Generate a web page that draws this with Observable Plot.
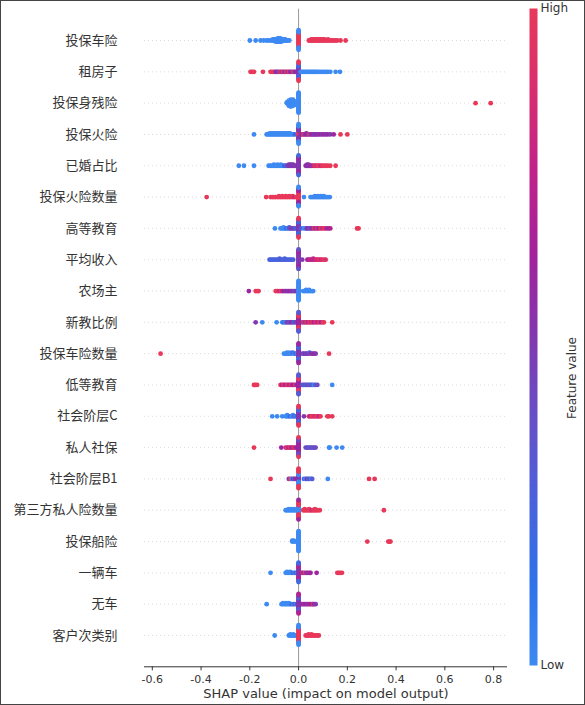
<!DOCTYPE html>
<html><head><meta charset="utf-8">
<script src="https://cdn.jsdelivr.net/npm/d3@7"></script>
<script src="https://cdn.jsdelivr.net/npm/@observablehq/plot@0.6"></script>
<style>
body{margin:0;background:#fff;}
#wrap{position:relative;width:585px;height:705px;overflow:hidden;background:#fff;}
#main{position:absolute;left:0;top:0;}
#bar{position:absolute;left:520px;top:0;}
#frame{position:absolute;left:0;top:0;width:585px;height:705px;box-sizing:border-box;border:1px solid #444;pointer-events:none;}
</style></head><body>
<div id="wrap"><div id="main"></div><div id="bar"></div><div id="frame"></div></div>
<script>
// Feature names (top to bottom)
const features = ["投保车险","租房子","投保身残险","投保火险","已婚占比","投保火险数量","高等教育","平均收入","农场主","新教比例","投保车险数量","低等教育","社会阶层C","私人社保","社会阶层B1","第三方私人险数量","投保船险","一辆车","无车","客户次类别"];
const xTicks = [-0.6,-0.4,-0.2,0,0.2,0.4,0.6,0.8];
const xTitle = "SHAP value (impact on model output)";
const barLabel = "Feature value";
const barTicks = ["Low","High"];
// colour stops of the feature-value colour bar (low -> high)
const colorStops = ["#3d8af2","#2f72ea","#4a62dc","#6650c8","#8238b0","#a2229c","#c0228a","#d82e70","#e8385a"];

// Each point: [SHAP value, feature value (0 = low, 1 = high), count]
const r01 = [[-0.200,0],[-0.176,0],[-0.156,0],[-0.143,0],[-0.131,0],[-0.122,0],[-0.113,0],
 [-0.106,0,2],[-0.100,0,2],[-0.095,0,3],[-0.090,0,3],[-0.085,0,4],[-0.080,0,4],[-0.075,0,4],[-0.070,0,3],[-0.065,0,2],[-0.060,0,2],[-0.055,0,2],[-0.050,0],[-0.045,0],[-0.038,0],
 [0,1,14],[0,0,6],
 [0.042,1],[0.047,1],[0.052,1,2],[0.058,1,2],[0.064,1,2],[0.070,1,2],[0.076,1,2],[0.082,1,2],[0.088,1,2],[0.094,1,2],[0.100,1,2],[0.107,1,2],[0.114,1],[0.121,1,2],[0.128,1],[0.135,1],[0.142,1],[0.150,1],[0.158,1],[0.172,1],[0.193,1]];
const r02 = [[-0.197,1],[-0.190,1],[-0.183,1],[-0.146,1],[-0.115,1],[-0.108,1],[-0.100,1],[-0.094,0.6],[-0.088,0.5],[-0.082,0.5],[-0.076,1],[-0.070,0.5],[-0.064,1],[-0.058,0.6],[-0.052,1],[-0.046,0.5],[-0.040,1],[-0.034,0.6],[-0.028,0.5],[-0.022,1],[-0.016,0.5],[-0.010,0.6],[-0.005,0.5],
 [0,0.5,8],[0,0.2,6],[0,1,4],
 [0.008,0],[0.014,0],[0.020,0],[0.026,0],[0.032,0],[0.038,0],[0.044,0],[0.050,0],[0.056,0],[0.062,0],[0.068,0],[0.074,0],[0.080,0],[0.088,0],[0.096,0],[0.104,0],[0.112,0],[0.120,0],[0.130,0],[0.152,0],[0.170,0]];
const r03 = [[-0.048,0,2],[-0.040,0,7],[-0.032,0,9],[-0.023,0,8],[-0.015,0,5],[-0.007,0],[0,0,24],[0.726,1],[0.788,1]];
const r04 = [[-0.183,0],[-0.131,0],[-0.125,0],[-0.119,0,2],[-0.113,0,2],[-0.107,0,2],[-0.101,0,2],[-0.095,0,2],[-0.089,0,2],[-0.083,0,2],[-0.077,0,2],[-0.071,0,2],[-0.065,0,2],[-0.059,0,2],[-0.053,0,2],[-0.047,0,2],[-0.041,0,2],[-0.035,0,2],[-0.029,0],[-0.022,0],[-0.015,0.2],
 [0,1,6],[0,0.5,8],[0,0,6],
 [0.008,0.5],[0.014,0.6],[0.020,1],[0.026,0.5],[0.032,0.6,2],[0.038,0.5],[0.044,1],[0.050,0.5],[0.056,0.6],[0.062,0.5],[0.068,0.5],[0.074,0.6],[0.080,0.5],[0.088,0.6],[0.096,0.5],[0.104,0.6],[0.112,0.5],[0.120,0.6],[0.130,0.5],[0.144,0.6],[0.172,1],[0.200,1]];
const r05 = [[-0.245,0],[-0.224,0],[-0.183,0],[-0.123,0],[-0.115,0],[-0.108,0],[-0.101,0,2],[-0.094,0],[-0.087,0,2],[-0.080,0],[-0.073,0,2],[-0.066,0],[-0.059,0.2],[-0.052,0.2],[-0.046,0.4],[-0.040,0.5,2],[-0.034,0.5,2],[-0.028,0.5,2],[-0.022,0.5,2],[-0.016,0.5],[-0.010,0.5],
 [0,0.5,12],[0,0.6,6],[0,0.2,2],
 [0.029,0.5],[0.035,0.6,2],[0.041,0.5,2],[0.047,0.6],[0.053,0.5],[0.060,0.7],[0.066,1],[0.072,0.8],[0.078,1],[0.084,1],[0.090,0.8],[0.097,1],[0.104,1],[0.112,1],[0.120,1],[0.130,1],[0.152,1]];
const r06 = [[-0.377,1],[-0.133,1],[-0.115,1],[-0.108,1],[-0.101,1],[-0.094,1],[-0.087,1],[-0.080,1,2],[-0.073,1],[-0.066,1,2],[-0.059,1],[-0.052,1,2],[-0.045,1],[-0.038,1,2],[-0.031,1],[-0.024,1,2],[-0.017,0.8],[-0.010,1],
 [0,1,10],[0,0.6,6],[0,0,4],
 [0.022,0],[0.049,0],[0.055,0],[0.061,0],[0.067,0,2],[0.073,0],[0.079,0,2],[0.085,0],[0.091,0,2],[0.097,0],[0.103,0,2],[0.109,0],[0.115,0],[0.121,0],[0.128,0]];
const r07 = [[-0.097,0],[-0.074,0],[-0.068,0],[-0.062,0,2],[-0.056,0],[-0.050,0.2],[-0.044,0],[-0.038,0.3,2],[-0.032,0.5],[-0.026,0.4],[-0.020,0.5],[-0.014,0.2],[-0.008,0.3],
 [0,0.5,10],[0,0.2,6],[0,1,4],
 [0.010,0.3],[0.022,0],[0.028,0],[0.034,0.5],[0.040,0.6],[0.046,0.2],[0.052,0.7],[0.058,0.5],[0.064,1],[0.070,0.6],[0.076,1],[0.082,0.6],[0.090,1],[0.098,0.8],[0.106,1],[0.114,0.7],[0.122,0.6],[0.130,0.7],[0.240,1],[0.246,1]];
const r08 = [[-0.119,0.25],[-0.113,0.25],[-0.106,0.2],[-0.099,0.25],[-0.092,0.25],[-0.085,0.2],[-0.078,0.25,2],[-0.071,0.3],[-0.064,0.25],[-0.057,0.2,2],[-0.050,0.3],[-0.043,0.25],[-0.036,0.2],[-0.029,0.3],[-0.022,0.25],
 [0,0.5,12],[0,0.6,6],[0,0.35,2],
 [0.015,0.5],[0.036,0.7],[0.042,0.6],[0.048,0.8],[0.054,0.7],[0.060,0.8,2],[0.066,0.7],[0.072,0.9],[0.078,0.8],[0.084,1],[0.090,0.8],[0.096,0.9],[0.104,1],[0.111,0.9]];
const r09 = [[-0.204,0.6],[-0.176,1],[-0.170,1],[-0.164,1],[-0.094,1],[-0.087,1],[-0.080,0.8],[-0.073,1],[-0.066,0.7],[-0.060,0.6],[-0.053,0.5],[-0.047,0.6],[-0.041,0.5],[-0.035,0.6],[-0.029,0.5],[-0.023,0.5],[-0.017,0.4],[-0.012,0.5],
 [0,0,20],
 [0.019,0],[0.025,0],[0.031,0,2],[0.037,0],[0.043,0,2],[0.049,0],[0.055,0],[0.060,0]];
const r10 = [[-0.176,0.5],[-0.149,0],[-0.090,0],[-0.067,0],[-0.061,0.2],[-0.055,0],[-0.049,0.4],[-0.043,0.5],[-0.037,0.3],[-0.031,0.6],[-0.025,0.5],[-0.019,0.2],[-0.012,0.5],[-0.006,0.4],
 [0,0.6,10],[0,1,6],[0,0.3,4],
 [0.015,0.6],[0.021,1],[0.027,0.5],[0.033,1],[0.039,0.7],[0.045,1],[0.051,0.8],[0.057,1],[0.063,0.6],[0.070,1],[0.077,0.7],[0.084,1],[0.092,0.6],[0.100,1],[0.104,1],[0.138,1]];
const r11 = [[-0.566,1],[-0.060,0],[-0.054,0],[-0.048,0,2],[-0.042,0],[-0.036,0,2],[-0.030,0],[-0.024,0.2],[-0.018,0],[-0.012,0.3],[-0.006,0],
 [0,0.5,10],[0,0.2,6],[0,0.6,4],
 [0.015,0.5],[0.021,0.3],[0.027,0.6],[0.033,0.4],[0.039,0.5],[0.045,0.2],[0.051,0.6],[0.058,0.5],[0.064,0.6],[0.070,0.5],[0.125,1]];
const r12 = [[-0.183,1],[-0.177,1],[-0.170,1],[-0.074,1],[-0.068,0.7],[-0.062,1],[-0.056,0.7],[-0.050,0.8],[-0.044,1],[-0.038,0.6],[-0.032,1],[-0.026,0.7],[-0.020,0.6],[-0.014,1],[-0.008,0.6],
 [0,0.6,10],[0,1,6],[0,0.3,4],
 [0.015,0.4],[0.021,0.3],[0.027,0.35],[0.033,0.3],[0.039,0.4],[0.045,0.3],[0.051,0.35],[0.057,0.3],[0.063,0],[0.069,0.3],[0.077,0.4],[0.138,0]];
const r13 = [[-0.108,0],[-0.088,0],[-0.067,0],[-0.053,0],[-0.047,0,2],[-0.041,0],[-0.035,0.2],[-0.029,0],[-0.023,0,2],[-0.017,0.3],[-0.011,0],[-0.005,0.2],
 [0,0.5,10],[0,0.2,6],[0,1,4],
 [0.022,0.5],[0.042,1],[0.048,0.7],[0.054,1],[0.060,1],[0.066,0.8],[0.072,1],[0.078,1],[0.084,0.7],[0.090,1],[0.118,1],[0.124,1],[0.138,1]];
const r14 = [[-0.183,1],[-0.071,0.6],[-0.053,0.8],[-0.047,1],[-0.041,0.7],[-0.035,1],[-0.029,0.6],[-0.023,0.8],[-0.017,1],[-0.011,0.6],
 [0,0.6,12],[0,0.4,6],[0,1,2],
 [0.029,0.4],[0.035,0.35],[0.041,0.4],[0.047,0.3],[0.053,0.4],[0.059,0.35],[0.065,0.4],[0.070,0.4],[0.125,0],[0.128,0],[0.156,0],[0.179,0]];
const r15 = [[-0.115,1],[-0.040,0.5],[-0.034,1],[-0.028,0],[-0.022,0.5],[-0.018,0.3],[-0.012,0.6],
 [0,0.5,6],[0,0,7],[0,1,7],
 [0.022,0.2],[0.028,0],[0.034,0.5],[0.040,0.2],[0.046,0.4],[0.052,0],[0.056,0.3],[0.120,0],[0.289,1],[0.312,1]];
const r16 = [[-0.053,0],[-0.047,0],[-0.041,0,2],[-0.035,0],[-0.029,0,2],[-0.023,0],[-0.017,0,2],[-0.011,0],[-0.005,0],
 [0,0,8],[0,1,10],[0,0.6,2],
 [0.019,1],[0.025,1,2],[0.031,1],[0.037,1],[0.043,1,2],[0.049,1],[0.055,0.8],[0.061,1],[0.067,1,2],[0.073,1],[0.079,1],[0.087,1],[0.350,1]];
const r17 = [[-0.026,0,2],[-0.020,0,2],[-0.012,0],[-0.006,0],[0,0,24],[0.282,1],[0.368,1],[0.373,1],[0.377,1]];
const r18 = [[-0.115,0],[-0.053,0],[-0.047,0,2],[-0.041,0],[-0.035,0,2],[-0.029,0],[-0.023,0.2],[-0.017,0],[-0.011,0.3],[-0.005,0],
 [0,0.5,10],[0,0.7,6],[0,0.2,4],
 [0.008,0.6],[0.014,0.8],[0.020,0.5],[0.026,1],[0.032,0.6],[0.038,0.5],[0.044,0.7],[0.049,0.6],[0.074,0.6],[0.159,1],[0.165,1],[0.171,1],[0.178,1]];
const r19 = [[-0.131,0],[-0.070,0],[-0.064,0,2],[-0.058,0],[-0.052,0,2],[-0.046,0],[-0.040,0,2],[-0.034,0],[-0.028,0.2],[-0.022,0],[-0.016,0.3],[-0.010,0],[-0.005,0.4],
 [0,0.5,10],[0,0.3,6],[0,0.7,4],
 [0.008,0.5],[0.014,0.6],[0.020,0.5],[0.026,0.7],[0.032,0.6],[0.038,0.5],[0.044,0.7],[0.050,0.6],[0.056,0.6],[0.060,1],[0.064,0.6],[0.070,0.5]];
const r20 = [[-0.098,0],[-0.040,0],[-0.034,0,2],[-0.028,0],[-0.022,0,2],[-0.016,0],[-0.012,0],
 [0,1,14],[0,0,6],
 [0.029,1],[0.035,1],[0.041,1,2],[0.047,1],[0.053,1,2],[0.059,1],[0.065,1],[0.071,1],[0.077,1],[0.083,1]];
const rows = [r01,r02,r03,r04,r05,r06,r07,r08,r09,r10,r11,r12,r13,r14,r15,r16,r17,r18,r19,r20];

const shapColor = d3.piecewise(d3.interpolateRgb, colorStops);

// SHAP-style beeswarm offsets (bins of the value range, alternating layers)
function swarm(xs) {
  const n = xs.length, mn = d3.min(xs), mx = d3.max(xs);
  const quant = xs.map(x => Math.round(100 * (x - mn) / (mx - mn + 1e-8)));
  const inds = d3.range(n).sort((a, b) => quant[a] - quant[b] || a - b);
  const ys = new Array(n).fill(0);
  let layer = 0, last = -1;
  for (const i of inds) {
    if (quant[i] !== last) layer = 0;
    ys[i] = Math.ceil(layer / 2) * ((layer % 2) * 2 - 1);
    layer++; last = quant[i];
  }
  const m = d3.max(ys, y => y + 1);
  return ys.map(y => y * 0.9 * 0.4 / m);
}

const data = [];
rows.forEach((pts, i) => {
  const exp = [];
  for (const [x, v, n = 1] of pts) for (let k = 0; k < n; k++) exp.push({x, v});
  const off = swarm(exp.map(d => d.x));
  exp.forEach((d, j) => data.push({feature: features[i], x: d.x, v: d.v, y: i - off[j]}));
});

const latin = "'DejaVu Sans', sans-serif";
const cjk = "'Noto Sans CJK SC', sans-serif";
const colorScale = {type: "linear", domain: [0, 1], interpolate: shapColor};

const main = Plot.plot({
  width: 520, height: 705,
  marginLeft: 144, marginRight: 13, marginTop: 8.7, marginBottom: 38.7,
  style: {background: "transparent", fontFamily: latin, color: "#333"},
  x: {domain: [-0.632, 0.857]},
  y: {domain: [20, -1]},
  color: colorScale,
  marks: [
    Plot.ruleY(d3.range(features.length), {stroke: "#cccccc", strokeWidth: 0.7, strokeDasharray: "1,3"}),
    Plot.ruleX([0], {stroke: "#999999"}),
    Plot.dot(data, {x: "x", y: "y", r: 2.4, fill: "v"}),
    Plot.ruleY([20], {stroke: "#333333"}),
    Plot.axisX({ticks: xTicks, tickFormat: d => d.toFixed(1), tickSize: 4, tickPadding: 4, fontSize: 11, label: null, stroke: "#333"}),
    Plot.text([xTitle], {text: d => d, frameAnchor: "bottom", dy: 31, fontSize: 13, fill: "#333"}),
    Plot.axisY({ticks: d3.range(features.length), tickFormat: i => features[i], tickSize: 0, tickPadding: 27, fontSize: 13, fontFamily: cjk, label: null, fill: "#333"})
  ]
});
document.getElementById("main").append(main);

const bar = Plot.plot({
  width: 65, height: 705,
  marginTop: 8, marginBottom: 40, marginLeft: 9, marginRight: 48,
  style: {background: "transparent", fontFamily: latin, color: "#333"},
  x: {domain: [0, 1], axis: null},
  y: {domain: [0, 1]},
  color: colorScale,
  marks: [
    Plot.raster({x1: 0, x2: 1, y1: 0, y2: 1, fill: (x, y) => y, pixelSize: 1}),
    Plot.axisY({anchor: "right", ticks: [0, 1], tickFormat: d => barTicks[d], tickSize: 0, tickPadding: 3, fontSize: 12, label: null}),
    Plot.text([barLabel], {text: d => d, frameAnchor: "right", rotate: -90, dx: 35, fontSize: 12, fill: "#333"})
  ]
});
document.getElementById("bar").append(bar);
</script>
</body></html>
